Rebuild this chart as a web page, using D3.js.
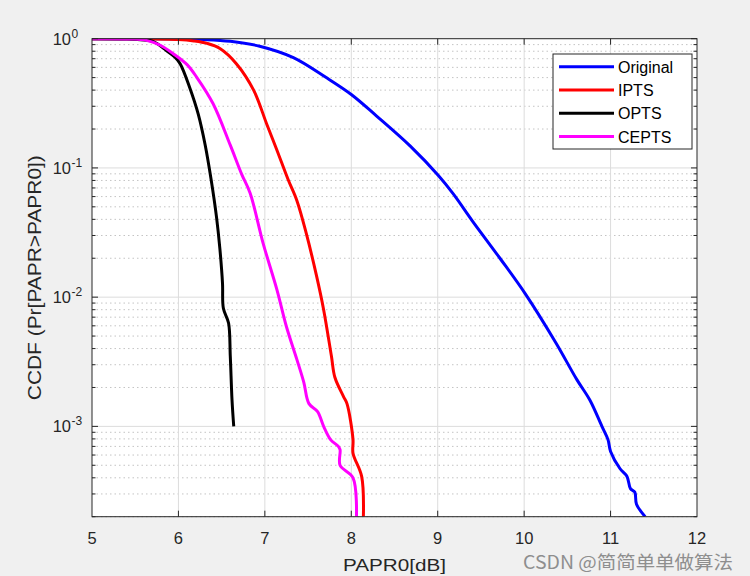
<!DOCTYPE html>
<html>
<head>
<meta charset="utf-8">
<script src="https://cdn.jsdelivr.net/npm/d3@7"></script>
<style>
  html, body { margin: 0; padding: 0; background: #f0f0f0; }
  svg { display: block; font-family: "Liberation Sans", Arial, sans-serif; }
</style>
</head>
<body>
<svg id="chart" width="750" height="576"></svg>
<script>
// CCDF curves: [PAPR0 in dB, Pr]
const originalPts = [
  [5.0, 1.0], [5.5, 1.0], [6.0, 0.995], [6.3, 0.985], [6.6, 0.955], [6.94, 0.875],
  [7.33, 0.714], [7.71, 0.50], [8.0, 0.37], [8.29, 0.253], [8.68, 0.148], [9.01, 0.087],
  [9.18, 0.063], [9.40, 0.039], [9.72, 0.0200], [10.01, 0.0107], [10.37, 0.0044],
  [10.61, 0.0023], [10.76, 0.0016], [10.90, 0.0010], [10.97, 0.00079], [11.0, 0.00064],
  [11.11, 0.00047], [11.19, 0.00041], [11.23, 0.00033], [11.28, 0.00031], [11.30, 0.00025],
  [11.40, 0.0002]
];
const iptsPts = [
  [5.0, 1.0], [5.5, 1.0], [6.0, 0.985], [6.18, 0.96], [6.33, 0.92], [6.48, 0.84], [6.67, 0.641],
  [6.87, 0.40], [7.02, 0.22], [7.14, 0.137], [7.27, 0.081], [7.37, 0.056], [7.48, 0.031],
  [7.60, 0.0144], [7.68, 0.0080], [7.77, 0.0035], [7.81, 0.0024], [7.91, 0.0017],
  [7.95, 0.0015], [8.02, 0.00079], [8.02, 0.00062], [8.12, 0.00041], [8.14, 0.0002]
];
const optsPts = [
  [5.0, 1.0], [5.4, 0.995], [5.56, 0.98], [5.71, 0.95], [5.86, 0.81], [5.96, 0.72],
  [6.02, 0.64], [6.13, 0.42], [6.23, 0.26], [6.31, 0.150], [6.38, 0.080], [6.44, 0.042],
  [6.48, 0.0235], [6.51, 0.0128], [6.52, 0.0082], [6.58, 0.0063], [6.60, 0.0035],
  [6.62, 0.0016], [6.64, 0.001]
];
const ceptsPts = [
  [5.0, 1.0], [5.45, 0.995], [5.63, 0.97], [5.79, 0.89], [5.94, 0.766], [6.10, 0.63],
  [6.21, 0.505], [6.40, 0.315], [6.60, 0.150], [6.73, 0.090], [6.83, 0.0636], [6.98, 0.0261],
  [7.14, 0.0114], [7.25, 0.0059], [7.37, 0.0033], [7.45, 0.0022], [7.51, 0.0015],
  [7.61, 0.0013], [7.68, 0.00100], [7.76, 0.00079], [7.85, 0.00070], [7.87, 0.00066],
  [7.87, 0.00050], [8.02, 0.00040], [8.06, 0.0002]
];

const seriesNames = ["Original", "IPTS", "OPTS", "CEPTS"];
const seriesColors = ["#0000ff", "#ff0000", "#000000", "#ff00ff"];
const seriesData = [originalPts, iptsPts, optsPts, ceptsPts];

const xTicks = [5, 6, 7, 8, 9, 10, 11, 12];
const yMajor = [1, 1e-1, 1e-2, 1e-3];
const yExpLabels = ["0", "-1", "-2", "-3"];

const svg = d3.select("#chart");
const pLeft = 92, pRight = 697, pTop = 38.7, pBottom = 516.7;

const x = d3.scaleLinear().domain([5, 12]).range([pLeft, pRight]);
const y = d3.scaleLog().domain([2e-4, 1]).range([pBottom, pTop]);

// minor decades 2..9
const yMinor = [];
[1e-4, 1e-3, 1e-2, 1e-1].forEach(d => {
  d3.range(2, 10).forEach(k => {
    const v = k * d;
    if (v >= 2e-4 && v < 1) yMinor.push(v);
  });
});

svg.append("rect")
  .attr("x", pLeft).attr("y", pTop)
  .attr("width", pRight - pLeft).attr("height", pBottom - pTop)
  .attr("fill", "#ffffff");

// Gitter
const grid = svg.append("g");
grid.selectAll("line.minor")
  .data(yMinor)
  .enter().append("line")
    .attr("x1", pLeft).attr("x2", pRight)
    .attr("y1", d => y(d)).attr("y2", d => y(d))
    .attr("stroke", "#c4c4c4")
    .attr("stroke-width", 1)
    .attr("stroke-dasharray", "1.5,3");

grid.selectAll("line.majy")
  .data(yMajor.slice(1))
  .enter().append("line")
    .attr("x1", pLeft).attr("x2", pRight)
    .attr("y1", d => y(d)).attr("y2", d => y(d))
    .attr("stroke", "#dcdcdc")
    .attr("stroke-width", 1);

grid.selectAll("line.majx")
  .data(xTicks.slice(1, -1))
  .enter().append("line")
    .attr("x1", d => x(d)).attr("x2", d => x(d))
    .attr("y1", pTop).attr("y2", pBottom)
    .attr("stroke", "#dcdcdc")
    .attr("stroke-width", 1);

// Kurven
svg.append("clipPath").attr("id", "plotclip")
  .append("rect")
    .attr("x", pLeft).attr("y", pTop)
    .attr("width", pRight - pLeft).attr("height", pBottom - pTop);

const line = d3.line()
  .x(d => x(d[0]))
  .y(d => y(d[1]))
  .curve(d3.curveCatmullRom.alpha(0.5));

svg.append("g")
  .attr("clip-path", "url(#plotclip)")
  .selectAll("path")
  .data(seriesData)
  .enter().append("path")
    .attr("d", line)
    .attr("fill", "none")
    .attr("stroke", (d, i) => seriesColors[i])
    .attr("stroke-width", 3)
    .attr("stroke-linejoin", "round");

// Rahmen + Ticks
const axisCol = "#262626";
svg.append("rect")
  .attr("x", pLeft).attr("y", pTop)
  .attr("width", pRight - pLeft).attr("height", pBottom - pTop)
  .attr("fill", "none")
  .attr("stroke", axisCol)
  .attr("stroke-width", 1);

const ticks = svg.append("g").attr("stroke", axisCol).attr("stroke-width", 1);
xTicks.slice(1, -1).forEach(v => {
  ticks.append("line").attr("x1", x(v)).attr("x2", x(v)).attr("y1", pBottom).attr("y2", pBottom - 6);
  ticks.append("line").attr("x1", x(v)).attr("x2", x(v)).attr("y1", pTop).attr("y2", pTop + 6);
});
yMajor.forEach(v => {
  ticks.append("line").attr("x1", pLeft).attr("x2", pLeft + 6).attr("y1", y(v)).attr("y2", y(v));
  ticks.append("line").attr("x1", pRight).attr("x2", pRight - 6).attr("y1", y(v)).attr("y2", y(v));
});
yMinor.forEach(v => {
  ticks.append("line").attr("x1", pLeft).attr("x2", pLeft + 3.5).attr("y1", y(v)).attr("y2", y(v));
  ticks.append("line").attr("x1", pRight).attr("x2", pRight - 3.5).attr("y1", y(v)).attr("y2", y(v));
});

// Achsenbeschriftung
svg.append("g").selectAll("text")
  .data(xTicks)
  .enter().append("text")
    .attr("x", d => x(d))
    .attr("y", 544)
    .attr("text-anchor", "middle")
    .attr("font-size", "16.5px")
    .attr("fill", axisCol)
    .text(d => d);

const yLab = svg.append("g").selectAll("g")
  .data(yMajor)
  .enter().append("g");
yLab.append("text")
  .attr("x", 71)
  .attr("y", d => y(d) + 6)
  .attr("text-anchor", "end")
  .attr("font-size", "16.5px")
  .attr("fill", axisCol)
  .text("10");
yLab.append("text")
  .attr("x", 71.5)
  .attr("y", d => y(d) - 1)
  .attr("text-anchor", "start")
  .attr("font-size", "12px")
  .attr("fill", axisCol)
  .text((d, i) => yExpLabels[i]);

svg.append("text")
  .attr("x", (pLeft + pRight) / 2)
  .attr("y", 571)
  .attr("text-anchor", "middle")
  .attr("font-size", "17px")
  .attr("fill", axisCol)
  .attr("textLength", 103)
  .attr("lengthAdjust", "spacingAndGlyphs")
  .text("PAPR0[dB]");

svg.append("text")
  .attr("transform", `translate(41,${(pTop + pBottom) / 2}) rotate(-90)`)
  .attr("text-anchor", "middle")
  .attr("font-size", "18px")
  .attr("fill", axisCol)
  .attr("textLength", 245)
  .attr("lengthAdjust", "spacingAndGlyphs")
  .text("CCDF (Pr[PAPR>PAPR0])");

// Legende
const legend = svg.append("g").attr("transform", "translate(553,54)");
legend.append("rect")
  .attr("width", 139).attr("height", 95)
  .attr("fill", "#ffffff")
  .attr("stroke", axisCol)
  .attr("stroke-width", 1);
const legRows = legend.selectAll("g.row")
  .data(seriesNames)
  .enter().append("g")
    .attr("class", "row")
    .attr("transform", (d, i) => `translate(0,${12.7 + i * 23.3})`);
legRows.append("line")
  .attr("x1", 6).attr("x2", 61)
  .attr("stroke", (d, i) => seriesColors[i])
  .attr("stroke-width", 3);
legRows.append("text")
  .attr("x", 65)
  .attr("y", 6)
  .attr("font-size", "16px")
  .attr("fill", "#000")
  .text(d => d);

// Wasserzeichen
svg.append("text")
  .attr("x", 523)
  .attr("y", 569)
  .attr("font-family", "'Noto Sans CJK SC', sans-serif")
  .attr("font-size", "18px")
  .attr("fill", "#8e8e8e")
  .attr("textLength", 210)
  .attr("lengthAdjust", "spacingAndGlyphs")
  .text("CSDN @简简单单做算法");
</script>
</body>
</html>
